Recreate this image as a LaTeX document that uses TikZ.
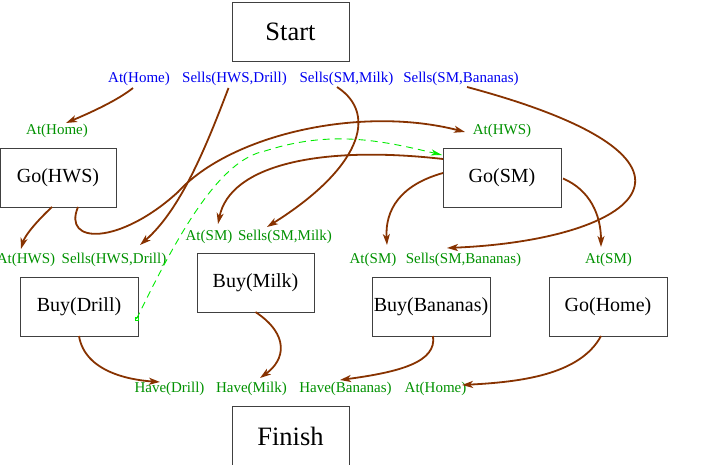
\documentclass[tikz,border=0pt]{standalone}
\usepackage{fontspec}
\setmainfont{Liberation Serif}
\usetikzlibrary{arrows.meta,calc}
\definecolor{edgebrown}{RGB}{135,50,0}
\definecolor{effblue}{RGB}{0,0,240}
\definecolor{pregreen}{RGB}{0,145,0}
\definecolor{threatgreen}{RGB}{0,235,0}
\begin{document}
\begin{tikzpicture}[x=1pt,y=-1pt,
  actbox/.style={draw=black!75,line width=0.9pt,minimum width=118pt,minimum height=59pt,inner sep=0pt,font=\fontsize{20}{24}\selectfont},
  bigbox/.style={actbox,minimum width=117pt,font=\fontsize{26.5}{30}\selectfont},
  eff/.style={text=effblue,inner sep=0.5pt,font=\fontsize{15}{18}\selectfont},
  pre/.style={text=pregreen,inner sep=0.5pt,font=\fontsize{15}{18}\selectfont},
  link/.style={draw=edgebrown,line width=1.8pt,-{Stealth[length=11pt,width=7pt,inset=3pt]}},
  threat/.style={draw=threatgreen,line width=0.9pt,dash pattern=on 7pt off 5pt,-{Stealth[length=11pt,width=6pt,inset=3pt]}}
]
\useasboundingbox (0,0) rectangle (710,465);

% action boxes
\node[bigbox] (start) at (290.5,31.5) {Start};
\node[bigbox] (finish) at (290.5,436) {Finish};
\node[actbox,minimum width=116pt] (goHWS) at (58,177.5) {Go(HWS)};
\node[actbox] (goSM) at (502,177.5) {Go(SM)};
\node[actbox,minimum width=117pt] (buyMilk) at (255.5,282.5) {Buy(Milk)};
\node[actbox] (buyDrill) at (79,306.5) {Buy(Drill)};
\node[actbox] (buyBan) at (431,306.5) {Buy(Bananas)};
\node[actbox] (goHome) at (608,306.5) {Go(Home)};

% effects of Start
\node[eff] (eAtHome) at (139,79) {At(Home)};
\node[eff] (eSellsDrill) at (234.5,79) {Sells(HWS,Drill)};
\node[eff] (eSellsMilk) at (346.5,79) {Sells(SM,Milk)};
\node[eff] (eSellsBan) at (461,79) {Sells(SM,Bananas)};

% preconditions
\node[pre] (pAtHome) at (57,131) {At(Home)};
\node[pre] (pAtHWS) at (502,131) {At(HWS)};
\node[pre] (pAtHWSd) at (26,260) {At(HWS)};
\node[pre] (pSellsDrill) at (114,260) {Sells(HWS,Drill)};
\node[pre] (pAtSMm) at (209,237) {At(SM)};
\node[pre] (pSellsMilk) at (285,237) {Sells(SM,Milk)};
\node[pre] (pAtSMb) at (373,260) {At(SM)};
\node[pre] (pSellsBan) at (463.5,260) {Sells(SM,Bananas)};
\node[pre] (pAtSMh) at (608.5,260) {At(SM)};
\node[pre] (hDrill) at (169.5,389) {Have(Drill)};
\node[pre] (hMilk) at (251.5,389) {Have(Milk)};
\node[pre] (hBan) at (345.5,389) {Have(Bananas)};
\node[pre] (hHome) at (435.5,389) {At(Home)};

% causal links
\draw[link] ([shift={(-6,9)}]eAtHome.center) .. controls (118,100) and (92,112) .. ([shift={(9,-8)}]pAtHome.center);
\draw[link] ([shift={(-6,9)}]eSellsDrill.center) .. controls (205,150) and (180,210) .. ([shift={(26,-15)}]pSellsDrill.center);
\draw[link] ([shift={(-9.5,8)}]eSellsMilk.center) .. controls (380,115) and (358,170) .. ([shift={(-18,-10)}]pSellsMilk.center);
\draw[link] ([shift={(6,8)}]eSellsBan.center) .. controls (740,160) and (640,240) .. ([shift={(-16.5,-12)}]pSellsBan.center);
\draw[link] ([shift={(20,29.5)}]goHWS.center) .. controls (62,245) and (120,245) .. (178,192) .. controls (230,135) and (360,105) .. ([shift={(-37,1)}]pAtHWS.center);
\draw[link] ([shift={(-6,29.5)}]goHWS.center) .. controls (38,220) and (25,235) .. ([shift={(-5,-11)}]pAtHWSd.center);
\draw[link] ([shift={(-59,-18.5)}]goSM.center) .. controls (320,145) and (230,165) .. ([shift={(9,-13)}]pAtSMm.center);
\draw[link] ([shift={(-59,-4.5)}]goSM.center) .. controls (400,185) and (385,210) .. ([shift={(14,-15)}]pAtSMb.center);
\draw[link] ([shift={(61,1)}]goSM.center) .. controls (590,190) and (601,215) .. ([shift={(-7.5,-13)}]pAtSMh.center);
\draw[link] ([shift={(0,29.5)}]buyDrill.center) .. controls (85,372) and (130,380) .. ([shift={(-9.5,-7)}]hDrill.center);
\draw[link] ([shift={(0,29.5)}]buyMilk.center) .. controls (290,335) and (285,360) .. ([shift={(8.5,-11)}]hMilk.center);
\draw[link] ([shift={(2,29.5)}]buyBan.center) .. controls (437,362) and (400,372) .. ([shift={(-5.5,-9)}]hBan.center);
\draw[link] ([shift={(-7,29.5)}]goHome.center) .. controls (580,375) and (520,382) .. ([shift={(26.5,-4)}]hHome.center);

% ordering (dashed) link
\coordinate (tail) at ([shift={(57.5,12.5)}]buyDrill.center);
\draw[threatgreen,line width=0.6pt] ($(tail)+(-1.3,-1.3)$) rectangle ($(tail)+(1.3,1.3)$);
\draw[threat] (tail) .. controls (180,230) and (220,160) .. (265,151) .. controls (330,130) and (380,140) .. ([shift={(-60,-22.5)}]goSM.center);
\end{tikzpicture}
\end{document}
